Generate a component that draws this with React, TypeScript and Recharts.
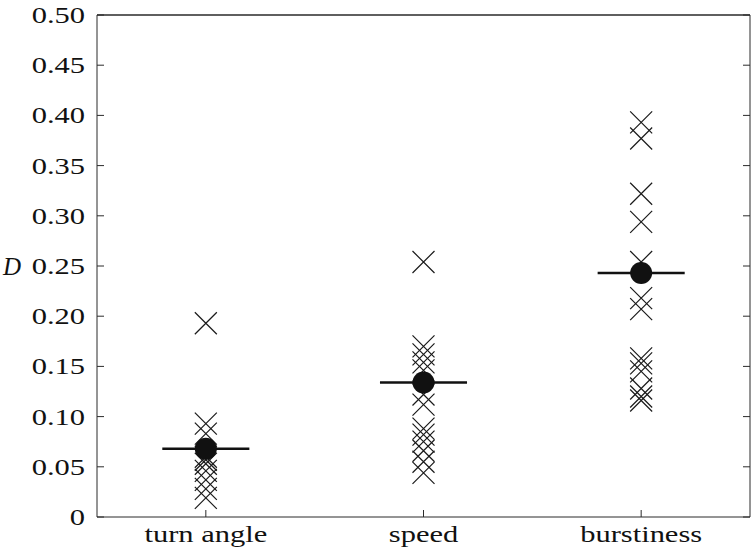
import { ScatterChart, Scatter, XAxis, YAxis, ErrorBar, CartesianGrid, ReferenceLine } from 'recharts'

const categories = ['turn angle', 'speed', 'burstiness']

// per-individual D values
const turnAngleD = [0.193, 0.093, 0.083, 0.06, 0.057, 0.053, 0.046, 0.037, 0.028, 0.019]
const speedD = [0.254, 0.17, 0.162, 0.154, 0.146, 0.122, 0.112, 0.088, 0.082, 0.075, 0.066, 0.055, 0.044]
const burstinessD = [0.393, 0.377, 0.322, 0.294, 0.254, 0.218, 0.207, 0.158, 0.153, 0.145, 0.128, 0.12, 0.116]

const meanD = [0.068, 0.134, 0.243]

const yTicks = [0, 0.05, 0.1, 0.15, 0.2, 0.25, 0.3, 0.35, 0.4, 0.45, 0.5]
const xTicks = [1, 2, 3]
const Y_MAX = 0.5

// half length of the mean bar, in category units
const MEAN_BAR = 0.2

const INK = '#1a1a1a'
const FRAME = '#2b2b2b'
const FONT = '"Liberation Serif", "Times New Roman", serif'
const STRETCH = 1.27

const crossData = [turnAngleD, speedD, burstinessD].flatMap((vals, i) =>
  vals.map((v) => ({ x: i + 1, y: v }))
)
const meanData = meanD.map((v, i) => ({ x: i + 1, y: v, err: MEAN_BAR }))

const XMark = (props: any) => {
  const { cx, cy } = props
  const s = 11
  return (
    <path
      d={`M${cx - s},${cy - s}L${cx + s},${cy + s}M${cx - s},${cy + s}L${cx + s},${cy - s}`}
      stroke={INK}
      strokeWidth={1.2}
      fill="none"
    />
  )
}

const MeanDot = (props: any) => <circle cx={props.cx} cy={props.cy} r={11} fill="#111" />
const Nothing = () => <g />

// the source figure's lettering is wider than it is tall, hence the horizontal stretch
const Label = ({ x, y, anchor, children }: any) => (
  <text
    transform={`translate(${x},${y}) scale(${STRETCH},1)`}
    textAnchor={anchor}
    fontSize={24}
    fontFamily={FONT}
    fill="#111"
  >
    {children}
  </text>
)

const XTick = (p: any) => (
  <Label x={p.x} y={p.y + 18} anchor="middle">
    {categories[p.payload.value - 1]}
  </Label>
)

const YTick = (p: any) => {
  const v = p.payload.value
  return (
    <Label x={p.x} y={p.y + 8} anchor="end">
      {v === 0 ? '0' : v.toFixed(2)}
    </Label>
  )
}

export default function App() {
  return (
    <div style={{ position: 'absolute', left: 0, top: 0, width: 752, height: 555, background: '#fff' }}>
      <ScatterChart width={752} height={555} margin={{ top: 15, right: 0, bottom: 0, left: 0 }}>
        <CartesianGrid
          xAxisId="b"
          yAxisId="l"
          vertical={false}
          horizontalValues={[Y_MAX]}
          stroke={FRAME}
          strokeOpacity={1}
        />
        <XAxis
          xAxisId="b"
          type="number"
          dataKey="x"
          domain={[0.5, 3.5]}
          ticks={xTicks}
          interval={0}
          allowDataOverflow
          height={38}
          tickSize={-7}
          tickMargin={14}
          tick={XTick}
          stroke={FRAME}
        />
        <YAxis
          yAxisId="l"
          type="number"
          dataKey="y"
          domain={[0, Y_MAX]}
          ticks={yTicks}
          interval={0}
          allowDataOverflow
          width={97}
          tickSize={-7}
          tickMargin={19}
          tick={YTick}
          stroke={FRAME}
          label={{
            value: 'D',
            position: 'insideLeft',
            offset: 3,
            style: { fontSize: 25, fontFamily: FONT, fontStyle: 'italic', fill: '#111' },
          }}
        />
        <YAxis
          yAxisId="r"
          orientation="right"
          type="number"
          dataKey="y"
          domain={[0, Y_MAX]}
          ticks={yTicks}
          interval={0}
          allowDataOverflow
          width={2}
          tickSize={-7}
          tick={Nothing}
          stroke={FRAME}
        />
        <ReferenceLine xAxisId="b" yAxisId="r" y={Y_MAX} stroke={FRAME} strokeWidth={1.2} ifOverflow="visible" />
        <Scatter
          xAxisId="b"
          yAxisId="r"
          data={meanData}
          shape={Nothing}
          isAnimationActive={false}
        />
        <Scatter
          xAxisId="b"
          yAxisId="l"
          data={crossData}
          shape={XMark}
          isAnimationActive={false}
        />
        <Scatter
          xAxisId="b"
          yAxisId="l"
          data={meanData}
          shape={MeanDot}
          isAnimationActive={false}
        >
          <ErrorBar dataKey="err" direction="x" width={0} stroke="#111" strokeWidth={2.5} />
        </Scatter>
      </ScatterChart>
    </div>
  )
}
